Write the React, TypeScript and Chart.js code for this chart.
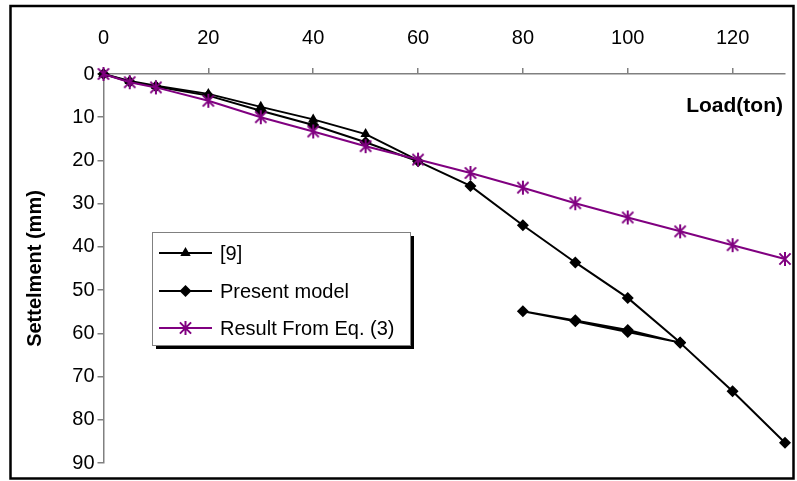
import React, { useEffect, useRef } from "react";
import { Chart, registerables } from "chart.js";

Chart.register(...registerables);

// ---- data ----
const seriesNames = ["[9]", "Present model", "Result From Eq. (3)"];
const xAxisTitle = "Load(ton)";
const yAxisTitle = "Settelment (mm)";

const loadRef9 = [0, 5, 10, 20, 30, 40, 50, 60];
const settleRef9 = [0, 1.6, 2.7, 4.6, 7.6, 10.5, 13.9, 20.0];

const loadModel = [0, 5, 10, 20, 30, 40, 50, 60, 70, 80, 90, 100, 110, 100, 90, 80, 90, 100, 110, 120, 130];
const settleModel = [0, 1.8, 2.9, 5.0, 8.5, 11.8, 15.8, 20.2, 25.9, 35.0, 43.6, 51.8, 62.1, 59.7, 57.2, 54.9, 57.0, 59.2, 62.2, 73.4, 85.3];

const loadEq3 = [0, 5, 10, 20, 30, 40, 50, 60, 70, 80, 90, 100, 110, 120, 130];
const settleEq3 = [0, 1.9, 3.1, 6.2, 10.0, 13.3, 16.7, 19.8, 22.9, 26.3, 29.9, 33.2, 36.4, 39.6, 42.8];

const xMin = 0, xMax = 130, xStep = 20;
const yMin = 0, yMax = 90, yStep = 10;

const FONT = "'Liberation Sans', Arial, sans-serif";
const PURPLE = "#800080";
const AXIS_GRAY = "#808080";

function toPoints(xs: number[], ys: number[]) {
  return xs.map((x, i) => ({ x, y: ys[i] }));
}

function drawStar(ctx: CanvasRenderingContext2D, x: number, y: number, r: number, color: string, lw: number) {
  ctx.save();
  ctx.strokeStyle = color;
  ctx.lineWidth = lw;
  ctx.beginPath();
  ctx.moveTo(x, y - r);
  ctx.lineTo(x, y + r);
  const d = r * 0.8;
  ctx.moveTo(x - d, y - d);
  ctx.lineTo(x + d, y + d);
  ctx.moveTo(x - d, y + d);
  ctx.lineTo(x + d, y - d);
  ctx.stroke();
  ctx.restore();
}

function makeStarCanvas(r: number, color: string, lw: number) {
  const size = Math.ceil(r * 2 + 4);
  const c = document.createElement("canvas");
  c.width = size;
  c.height = size;
  const g = c.getContext("2d") as CanvasRenderingContext2D;
  drawStar(g, size / 2, size / 2, r, color, lw);
  return c;
}

function drawTriangle(ctx: CanvasRenderingContext2D, x: number, y: number, r: number) {
  ctx.beginPath();
  ctx.moveTo(x, y - r);
  ctx.lineTo(x + r * 0.866, y + r * 0.5);
  ctx.lineTo(x - r * 0.866, y + r * 0.5);
  ctx.closePath();
  ctx.fillStyle = "#000";
  ctx.fill();
}

function drawDiamond(ctx: CanvasRenderingContext2D, x: number, y: number, r: number) {
  ctx.beginPath();
  ctx.moveTo(x, y - r);
  ctx.lineTo(x + r, y);
  ctx.lineTo(x, y + r);
  ctx.lineTo(x - r, y);
  ctx.closePath();
  ctx.fillStyle = "#000";
  ctx.fill();
}

const framePlugin = {
  id: "frame",
  beforeDraw(chart: any) {
    const ctx = chart.ctx as CanvasRenderingContext2D;
    ctx.save();
    ctx.fillStyle = "#fff";
    ctx.fillRect(0, 0, chart.width, chart.height);
    ctx.strokeStyle = "#000";
    ctx.lineWidth = 2.5;
    ctx.strokeRect(10.5, 6, 783, 472.5);
    ctx.restore();
  },
};

const extrasPlugin = {
  id: "extras",
  afterDraw(chart: any) {
    const ctx = chart.ctx as CanvasRenderingContext2D;
    const area = chart.chartArea;
    ctx.save();
    // x axis title inside plot area, right side
    ctx.font = `bold 21px ${FONT}`;
    ctx.fillStyle = "#000";
    ctx.textAlign = "right";
    ctx.textBaseline = "alphabetic";
    ctx.fillText(xAxisTitle, area.right - 2, 112);

    // legend box
    const lx = 152, ly = 232, lw = 258, lh = 113;
    ctx.fillStyle = "#000";
    ctx.fillRect(lx + 4, ly + 4, lw, lh);
    ctx.fillStyle = "#fff";
    ctx.fillRect(lx, ly, lw, lh);
    ctx.strokeStyle = AXIS_GRAY;
    ctx.lineWidth = 1;
    ctx.strokeRect(lx + 0.5, ly + 0.5, lw, lh);

    const rows = [253, 291, 328];
    const colors = ["#000", "#000", PURPLE];
    ctx.font = `20px ${FONT}`;
    ctx.textAlign = "left";
    ctx.textBaseline = "middle";
    rows.forEach((ry, i) => {
      ctx.strokeStyle = colors[i];
      ctx.lineWidth = 2;
      ctx.beginPath();
      ctx.moveTo(159, ry);
      ctx.lineTo(212, ry);
      ctx.stroke();
      if (i === 0) drawTriangle(ctx, 185.5, ry, 6);
      else if (i === 1) drawDiamond(ctx, 185.5, ry, 6);
      else drawStar(ctx, 185.5, ry, 7, PURPLE, 2);
      ctx.fillStyle = "#000";
      ctx.fillText(seriesNames[i], 220, ry + 1);
    });
    ctx.restore();
  },
};

export default function App() {
  const ref = useRef<HTMLCanvasElement | null>(null);

  useEffect(() => {
    if (!ref.current) return;
    const star = makeStarCanvas(7, PURPLE, 2);
    const chart = new Chart(ref.current, {
      type: "line",
      data: {
        datasets: [
          {
            label: seriesNames[0],
            data: toPoints(loadRef9, settleRef9),
            borderColor: "#000",
            backgroundColor: "#000",
            borderWidth: 2,
            pointStyle: "triangle",
            pointRadius: 6,
            pointBorderWidth: 0,
            tension: 0,
            order: 2,
            clip: false,
          },
          {
            label: seriesNames[1],
            data: toPoints(loadModel, settleModel),
            borderColor: "#000",
            backgroundColor: "#000",
            borderWidth: 2,
            pointStyle: "rectRot",
            pointRadius: 6,
            pointBorderWidth: 0,
            tension: 0,
            order: 1,
            clip: false,
          },
          {
            label: seriesNames[2],
            data: toPoints(loadEq3, settleEq3),
            borderColor: PURPLE,
            backgroundColor: PURPLE,
            borderWidth: 2,
            pointStyle: star as any,
            pointRadius: 7,
            tension: 0,
            order: 0,
            clip: false,
          },
        ],
      },
      options: {
        animation: false,
        responsive: false,
        maintainAspectRatio: false,
        layout: { padding: { left: 0, top: 0, right: 12, bottom: 18 }, autoPadding: false },
        plugins: { legend: { display: false }, tooltip: { enabled: false } },
        scales: {
          x: {
            type: "linear",
            position: "top",
            min: xMin,
            max: xMax,
            afterFit: (s: any) => {
              s.height = 74;
            },
            ticks: {
              stepSize: xStep,
              includeBounds: false,
              color: "#000",
              font: { family: FONT, size: 20 },
              padding: 18,
              maxRotation: 0,
            },
            grid: {
              drawOnChartArea: false,
              drawTicks: true,
              tickLength: 6,
              color: AXIS_GRAY,
              lineWidth: 1.5,
            },
            border: { display: true, color: AXIS_GRAY, width: 1.5 },
          },
          y: {
            type: "linear",
            reverse: true,
            min: yMin,
            max: yMax,
            afterFit: (s: any) => {
              s.width = 103.5;
            },
            ticks: {
              stepSize: yStep,
              color: "#000",
              font: { family: FONT, size: 20 },
              padding: 3,
            },
            grid: {
              drawOnChartArea: false,
              drawTicks: true,
              tickLength: 6,
              color: AXIS_GRAY,
              lineWidth: 1.5,
            },
            border: { display: true, color: AXIS_GRAY, width: 1.5 },
            title: {
              display: true,
              text: yAxisTitle,
              color: "#000",
              font: { family: FONT, size: 20, weight: "bold" },
              padding: { top: 23, bottom: 0 },
            },
          },
        },
      },
      plugins: [framePlugin, extrasPlugin],
    });
    return () => chart.destroy();
  }, []);

  return (
    <div style={{ position: "absolute", left: 0, top: 0, width: 797, height: 481 }}>
      <canvas ref={ref} width={797} height={481} style={{ display: "block", width: 797, height: 481 }} />
    </div>
  );
}
